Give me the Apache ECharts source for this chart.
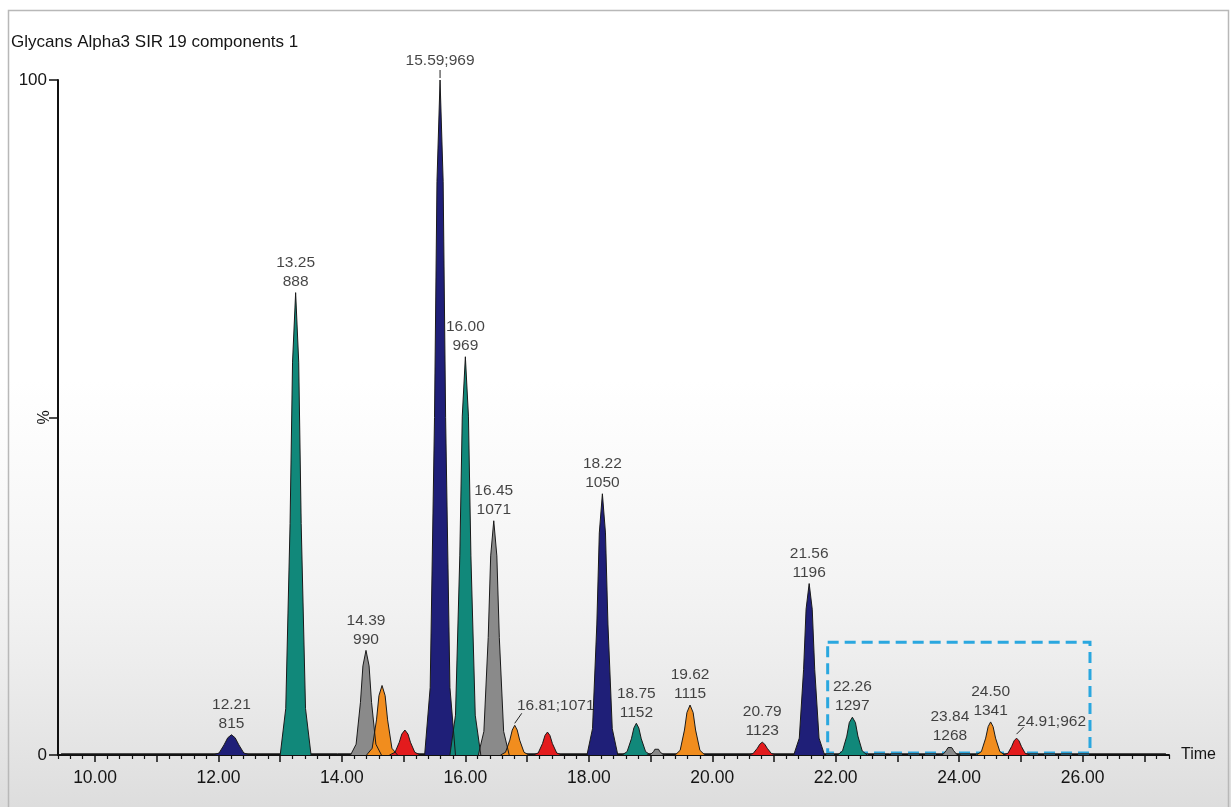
<!DOCTYPE html>
<html><head><meta charset="utf-8">
<script src="https://cdn.jsdelivr.net/npm/echarts@6/dist/echarts.min.js"></script>
<style>html,body{margin:0;padding:0;background:#fff}#c{width:1231px;height:807px}</style>
</head><body><div id="c"></div>
<script>
// ---------- data ----------
const titleText = 'Glycans Alpha3 SIR 19 components 1';
const xMajorTicks = [10,11,12,13,14,15,16,17,18,19,20,21,22,23,24,25,26,27];
const xTickLabels = [10,12,14,16,18,20,22,24,26];
const yTicks = [0,50,100];
const yTickLabels = [0,100];

const peakColorKey = ['navy','teal','gray','orange','red','navy','teal','gray','orange','red',
                      'navy','teal','gray','orange','red','navy','teal','gray','orange','red'];
const peakApexTime = [12.21,13.25,14.39,14.65,15.02,15.59,16.00,16.46,16.80,17.33,
                      18.22,18.77,19.10,19.64,20.81,21.57,22.27,23.85,24.51,24.93];
const peakApexPct  = [3.0,68.5,15.5,10.3,3.7,100,59,34.7,4.4,3.4,
                      38.7,4.7,1.0,7.4,1.9,25.4,5.6,1.3,4.9,2.5];
const peakLabels = ['12.21\n815','13.25\n888','14.39\n990','','','15.59;969','16.00\n969','16.45\n1071','16.81;1071','',
                    '18.22\n1050','18.75\n1152','','19.62\n1115','20.79\n1123','21.56\n1196','22.26\n1297','23.84\n1268','24.50\n1341','24.91;962'];

const peakProfiles = [
  [[11.91,0],[12.01,0.3],[12.09,1.5],[12.15,2.55],[12.21,3.0],[12.27,2.55],[12.33,1.5],[12.41,0.3],[12.51,0]],
  [[13.00,0],[13.09,6.9],[13.16,34.3],[13.20,58.2],[13.25,68.5],[13.30,58.2],[13.34,34.3],[13.41,6.9],[13.50,0]],
  [[14.14,0],[14.23,1.6],[14.30,7.8],[14.34,13.2],[14.39,15.5],[14.44,13.2],[14.48,7.8],[14.55,1.6],[14.64,0]],
  [[14.40,0],[14.49,1.0],[14.56,5.2],[14.60,8.8],[14.65,10.3],[14.70,8.8],[14.74,5.2],[14.81,1.0],[14.90,0]],
  [[14.77,0],[14.86,0.4],[14.93,1.9],[14.97,3.1],[15.02,3.7],[15.07,3.1],[15.11,1.9],[15.18,0.4],[15.27,0]],
  [[15.34,0],[15.43,10],[15.50,50],[15.54,85],[15.59,100],[15.64,85],[15.68,50],[15.75,10],[15.84,0]],
  [[15.75,0],[15.84,5.9],[15.91,29.5],[15.95,50.2],[16.00,59],[16.05,50.2],[16.09,29.5],[16.16,5.9],[16.25,0]],
  [[16.21,0],[16.30,3.5],[16.37,17.4],[16.41,29.5],[16.46,34.7],[16.51,29.5],[16.55,17.4],[16.62,3.5],[16.71,0]],
  [[16.57,0],[16.65,0.4],[16.72,2.2],[16.76,3.7],[16.80,4.4],[16.84,3.7],[16.88,2.2],[16.95,0.4],[17.03,0]],
  [[17.10,0],[17.18,0.3],[17.25,1.7],[17.29,2.9],[17.33,3.4],[17.37,2.9],[17.41,1.7],[17.48,0.3],[17.56,0]],
  [[17.97,0],[18.06,3.9],[18.13,19.4],[18.17,32.9],[18.22,38.7],[18.27,32.9],[18.31,19.4],[18.38,3.9],[18.47,0]],
  [[18.54,0],[18.62,0.5],[18.69,2.4],[18.73,4.0],[18.77,4.7],[18.81,4.0],[18.85,2.4],[18.92,0.5],[19.00,0]],
  [[18.94,0],[19.00,0.1],[19.05,0.5],[19.07,0.85],[19.10,1.0],[19.13,0.85],[19.15,0.5],[19.20,0.1],[19.26,0]],
  [[19.40,0],[19.48,0.7],[19.55,3.7],[19.59,6.3],[19.64,7.4],[19.69,6.3],[19.73,3.7],[19.80,0.7],[19.88,0]],
  [[20.58,0],[20.66,0.2],[20.73,1.0],[20.77,1.6],[20.81,1.9],[20.85,1.6],[20.89,1.0],[20.96,0.2],[21.04,0]],
  [[21.32,0],[21.41,2.5],[21.48,12.7],[21.52,21.6],[21.57,25.4],[21.62,21.6],[21.66,12.7],[21.73,2.5],[21.82,0]],
  [[22.03,0],[22.11,0.6],[22.18,2.8],[22.22,4.8],[22.27,5.6],[22.32,4.8],[22.36,2.8],[22.43,0.6],[22.51,0]],
  [[23.67,0],[23.74,0.1],[23.79,0.65],[23.82,1.1],[23.85,1.3],[23.88,1.1],[23.91,0.65],[23.96,0.1],[24.03,0]],
  [[24.28,0],[24.36,0.5],[24.43,2.5],[24.47,4.2],[24.51,4.9],[24.55,4.2],[24.59,2.5],[24.66,0.5],[24.74,0]],
  [[24.71,0],[24.79,0.25],[24.85,1.25],[24.89,2.1],[24.93,2.5],[24.97,2.1],[25.01,1.25],[25.07,0.25],[25.15,0]]
];
const baselineTrace = [[9.45,0.2],[27.35,0.2]];
const highlightBox = [[21.87,16.7],[26.12,0.3]];

// ---------- styles ----------
const FONT = "'Liberation Sans', Arial, sans-serif";
const TXT = '#151515';
const colorMap = {navy:'#1f1f78', teal:'#11887a', gray:'#8a8a8a', orange:'#f18d1e', red:'#e31b1d'};
const labelOverride = {
  5: {offset:[0,-8]},
  8: {offset:[41,-8.5]},
  19:{offset:[35,-5.5]}
};
const leader = { // pixel offsets relative to apex
  5: [[0,-2],[0,-10]],
  8: [[0,-2],[7,-12]],
  19:[[0,-4],[7,-11]]
};
const minorTicks = [];
for (let v = 94; v <= 274; v += 2) { if (v % 10 !== 0) minorTicks.push(v / 10); }

const chart = echarts.init(document.getElementById('c'), null, {renderer:'canvas'});

const series = peakProfiles.map((p, i) => ({
  type:'line', data:p, symbol:'none', showSymbol:false, silent:true, animation:false,
  xAxisIndex:0, yAxisIndex:0,
  lineStyle:{color:'#1a1a1a', width:1},
  areaStyle:{color:colorMap[peakColorKey[i]], opacity:1},
  z:3
}));

series.unshift({
  type:'line', data:baselineTrace, symbol:'none', silent:true, animation:false,
  lineStyle:{color:'#333', width:1}, z:2,
  markArea:{silent:true, z:1,
    itemStyle:{color:'rgba(0,0,0,0)', borderColor:'#2aa7df', borderWidth:3, borderType:[11,6]},
    data:[[{coord:highlightBox[0]},{coord:highlightBox[1]}]]}
});

const labelData = [];
peakLabels.forEach((t, i) => {
  if (!t) return;
  const item = {value:[peakApexTime[i], peakApexPct[i]], label:{formatter:t}};
  if (labelOverride[i]) Object.assign(item.label, labelOverride[i]);
  labelData.push(item);
});
series.push({
  type:'scatter', data:labelData, symbol:'circle', symbolSize:1, silent:true, animation:false,
  itemStyle:{color:'rgba(0,0,0,0)'}, z:5,
  label:{show:true, position:'top', distance:1, fontFamily:FONT, fontSize:15.5, lineHeight:19, color:TXT, align:'center'}
});

chart.setOption({
  animation:false,
  backgroundColor:'#ffffff',
  title:{text:titleText, left:11, top:34, padding:0,
    textStyle:{fontFamily:FONT, fontSize:17, fontWeight:'normal', color:TXT}},
  grid:{left:58, right:62, top:80, bottom:52, containLabel:false, outerBoundsMode:'none'},
  xAxis:[{
    type:'value', min:9.4, max:27.4, position:'bottom',
    name:'Time', nameLocation:'end', nameGap:12, nameMoveOverlap:false,
    nameTextStyle:{fontFamily:FONT, fontSize:16, color:TXT},
    axisLine:{show:true, lineStyle:{color:'#111', width:2}},
    axisTick:{show:true, length:7, lineStyle:{color:'#111', width:1.5}, customValues:xMajorTicks},
    axisLabel:{show:true, margin:14, fontFamily:FONT, fontSize:17.5, color:TXT,
      customValues:xTickLabels, formatter:v => Number(v).toFixed(2)},
    splitLine:{show:false}
  },{
    type:'value', min:9.4, max:27.4, position:'bottom',
    axisLine:{show:false},
    axisTick:{show:true, length:4, lineStyle:{color:'#111', width:1.2}, customValues:minorTicks},
    axisLabel:{show:false}, splitLine:{show:false}
  }],
  yAxis:{
    type:'value', min:0, max:100, interval:50,
    name:'%', nameLocation:'middle', nameGap:5, nameRotate:90, nameMoveOverlap:false,
    nameTextStyle:{fontFamily:FONT, fontSize:16, color:TXT},
    axisLine:{show:true, lineStyle:{color:'#111', width:2}},
    axisTick:{show:true, length:9, lineStyle:{color:'#111', width:1.5}, customValues:yTicks},
    axisLabel:{margin:11, fontFamily:FONT, fontSize:17, color:TXT, customValues:yTickLabels},
    splitLine:{show:false}
  },
  series:series
});

function addGraphics(){
  const g = [
    {type:'rect', id:'bg', z:-10, silent:true, shape:{x:0, y:380, width:1231, height:427},
      style:{fill:new echarts.graphic.LinearGradient(0,0,0,1,[
        {offset:0, color:'rgba(232,232,232,0)'},
        {offset:0.5, color:'rgba(228,228,228,0.45)'},
        {offset:1, color:'rgba(215,215,215,0.85)'}])}},
    {type:'rect', id:'frame', z:-5, silent:true, shape:{x:8.5, y:10.5, width:1220, height:800},
      style:{fill:null, stroke:'#b8b8b8', lineWidth:1.5}}
  ];
  Object.keys(leader).forEach(k => {
    const i = +k;
    const p = chart.convertToPixel({xAxisIndex:0, yAxisIndex:0}, [peakApexTime[i], peakApexPct[i]]);
    const a = leader[k][0], b = leader[k][1];
    g.push({type:'line', id:'ld'+k, z:20, silent:true,
      shape:{x1:p[0]+a[0], y1:p[1]+a[1], x2:p[0]+b[0], y2:p[1]+b[1]},
      style:{stroke:'#222', lineWidth:1}});
  });
  chart.setOption({graphic:g});
}
addGraphics();
</script>
</body></html>
